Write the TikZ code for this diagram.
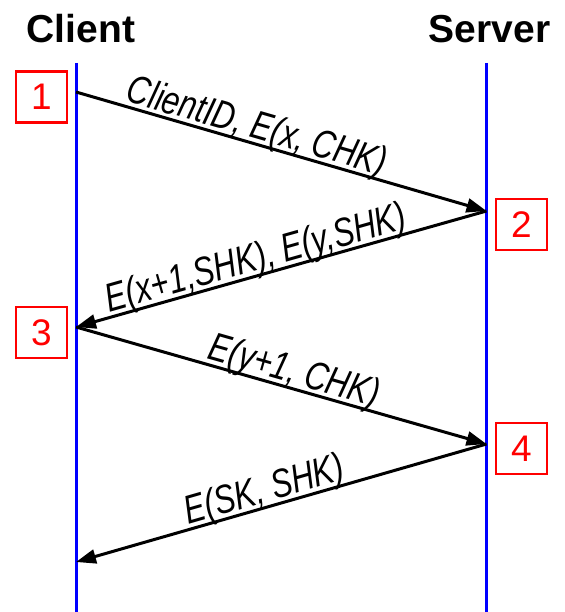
\documentclass[tikz,border=0pt]{standalone}
\usepackage{fontspec}
\setmainfont{Liberation Sans}
\usetikzlibrary{arrows.meta}

\begin{document}
\begin{tikzpicture}[x=1pt,y=-1pt,
  lifeline/.style={draw=blue,line width=3pt},
  msg/.style={draw=black,line width=3pt,-{Triangle[length=20pt,width=14pt]}},
  msglabel/.style={sloped,anchor=base,inner sep=0pt,yshift=5pt,
    font=\fontsize{40}{44}\selectfont\itshape},
  stepbox/.style={draw=red,line width=2.5pt,text=red,minimum size=51pt,
    inner sep=0pt,font=\fontsize{37}{40}\selectfont},
  party/.style={anchor=base,inner sep=0pt,font=\fontsize{39}{46}\selectfont\bfseries}]
\useasboundingbox (0,0) rectangle (564,612);

% party names
\node[party] (client) at (81,42.5) {Client};
\node[party] (server) at (489.5,42.5) {Server};

% lifelines
\coordinate (ctop) at (76,63);
\coordinate (cbot) at (76,612);
\coordinate (stop) at (486.5,63);
\coordinate (sbot) at (486.5,612);
\draw[lifeline] (ctop) -- (cbot);
\draw[lifeline] (stop) -- (sbot);

% message events
\coordinate (c1) at (76,92);
\coordinate (s1) at (486.5,211);
\coordinate (c2) at (76,327);
\coordinate (s2) at (486.5,444);
\coordinate (c3) at (76,562);

% step numbers
\node[stepbox] (b1) at (41.5,97) {1};
\node[stepbox] (b2) at (521.5,224.5) {2};
\node[stepbox] (b3) at (41.5,332.3) {3};
\node[stepbox] (b4) at (521.5,448.5) {4};

% messages
\draw[msg] (c1) -- node[msglabel,pos=0.43] (m1) {\scalebox{0.78}[1]{ClientID, E(x, CHK)}} (s1);
\draw[msg] (s1) -- node[msglabel,pos=0.55] (m2) {\scalebox{0.78}[1]{E(x+1,SHK), E(y,SHK)}} (c2);
\draw[msg] (c2) -- node[msglabel,pos=0.52] (m3) {\scalebox{0.78}[1]{E(y+1, CHK)}} (s2);
\draw[msg] (s2) -- node[msglabel,pos=0.53] (m4) {\scalebox{0.78}[1]{E(SK, SHK)}} (c3);
\end{tikzpicture}
\end{document}
